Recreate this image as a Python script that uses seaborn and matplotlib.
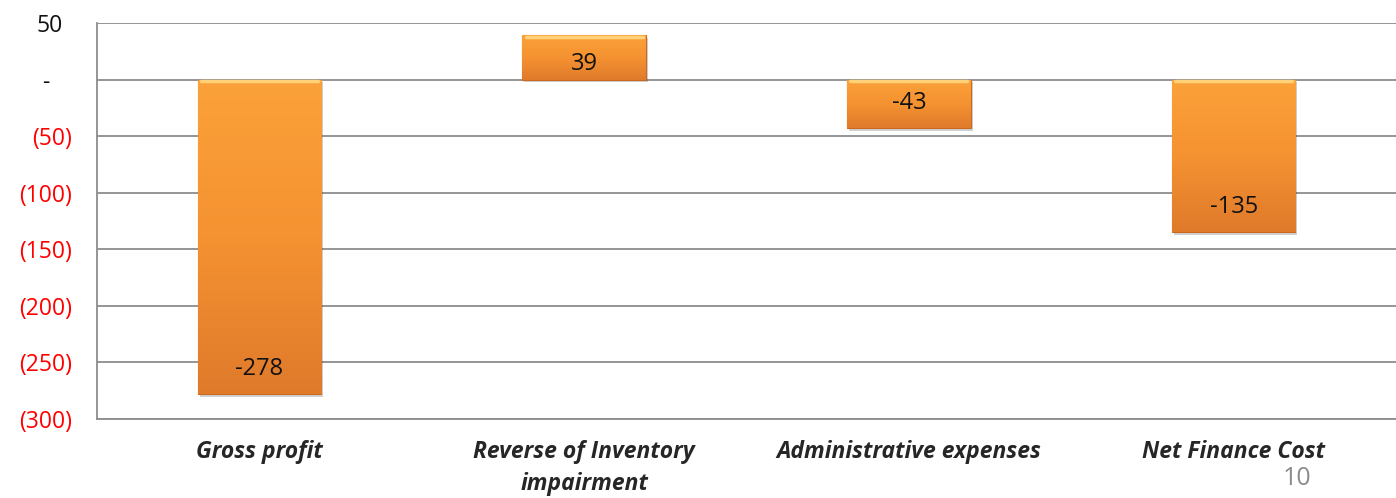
import numpy as np
import pandas as pd
import matplotlib
matplotlib.use("Agg")
import matplotlib.pyplot as plt
import matplotlib.transforms as mtransforms
import seaborn as sns
from matplotlib.colors import LinearSegmentedColormap

categories = ["Gross profit", "Reverse of Inventory\nimpairment",
              "Administrative expenses", "Net Finance Cost"]
values = [-278, 39, -43, -135]
y_ticks = [50, 0, -50, -100, -150, -200, -250, -300]
y_labels = ["50", "-", "(50)", "(100)", "(150)", "(200)", "(250)", "(300)"]
page_number = "10"

sns.set_style("white")
plt.rcParams["font.family"] = ["Open Sans", "DejaVu Sans"]

df = pd.DataFrame({"item": categories, "value": values})

fig = plt.figure(figsize=(13.96, 4.98), dpi=100)
ax = fig.add_axes([0.0695, 0.1586, 0.9305, 0.7952])

sns.barplot(data=df, x="item", y="value", color="#F7962F", width=0.38,
            ax=ax, zorder=3, saturation=1)

ax.set_ylim(-300, 50)
ax.set_xlim(-0.5, 3.5)
ax.set_yticks(y_ticks)
ax.set_yticklabels(y_labels)
ax.tick_params(axis="y", length=0, pad=18)
ax.tick_params(axis="x", length=0, pad=15)
for lbl, v in zip(ax.get_yticklabels(), y_ticks):
    lbl.set_color("#111111" if v >= 0 else "#FF0000")
    lbl.set_fontsize(16.5)
    # accounting-style alignment: positives leave room for ")"
    if v > 0:
        shift = -7
    elif v == 0:
        shift = -16
    else:
        shift = 0
    lbl.set_transform(lbl.get_transform() +
                      mtransforms.ScaledTranslation(shift / 72, 0, fig.dpi_scale_trans))
ax.set_xticks(range(len(categories)))
ax.set_xticklabels(categories, fontsize=16.5, fontweight="bold",
                   fontstyle="italic", linespacing=1.45)
ax.set_xlabel("")
ax.set_ylabel("")

ax.yaxis.grid(True, color="#8c8c8c", linewidth=1.3, zorder=0)
ax.set_axisbelow(True)
for side in ["top", "right"]:
    ax.spines[side].set_visible(False)
for side in ["left", "bottom"]:
    ax.spines[side].set_color("#8c8c8c")
    ax.spines[side].set_linewidth(1.3)

# orange gradient fill with a soft shadow
cmap = LinearSegmentedColormap.from_list("orange", ["#FBA23A", "#F59231", "#DF7A2B"])
grad = np.linspace(0, 1, 256).reshape(-1, 1)
for patch, v in zip(ax.patches, values):
    x0 = patch.get_x()
    w = patch.get_width()
    y0, y1 = sorted([0, v])
    shadow = plt.Rectangle((x0 + 0.006, y0 - 2.5), w, y1 - y0,
                           facecolor="#000000", alpha=0.18, zorder=2, linewidth=0)
    ax.add_patch(shadow)
    im = ax.imshow(grad, extent=[x0, x0 + w, y0, y1], cmap=cmap,
                   aspect="auto", origin="upper", zorder=3.5)
    im.set_clip_path(patch)
    patch.set_edgecolor("#C9691F")
    patch.set_linewidth(0.8)
    # light bevel on the top edge
    ax.plot([x0 + 0.01, x0 + w - 0.01], [y1 - 1.2, y1 - 1.2],
            color="#FFD27A", linewidth=2.5, zorder=4)
    ty = v + 22 if v < 0 else v - 25
    ax.text(patch.get_x() + w / 2, ty, str(v), ha="center", va="center",
            fontsize=17, color="#111111", zorder=5)

fig.text(0.929, 0.04, page_number, fontsize=18, color="#8c8c8c",
         ha="center", va="center")

fig.savefig("out.png", dpi=100)
